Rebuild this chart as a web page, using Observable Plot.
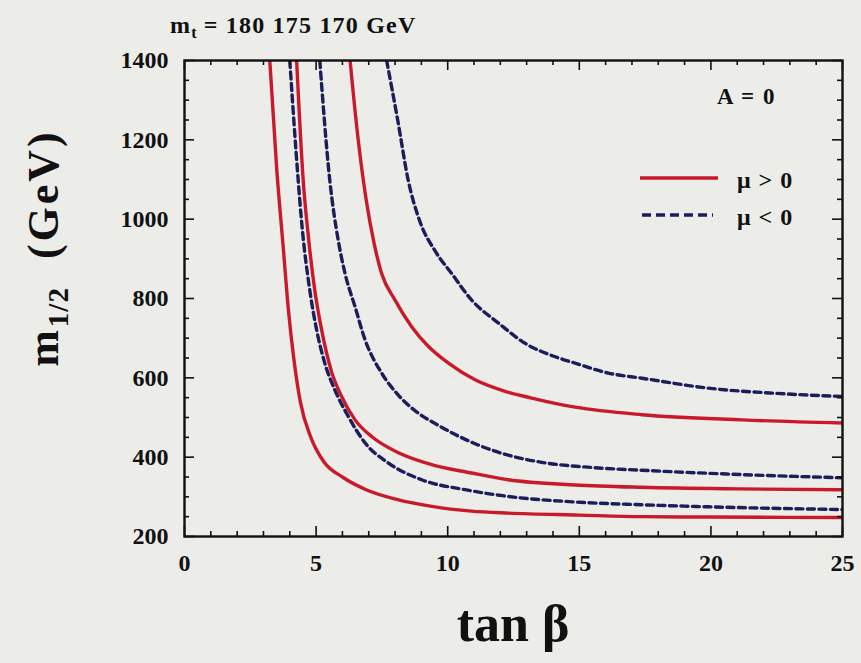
<!DOCTYPE html>
<html>
<head>
<meta charset="utf-8">
<script src="https://cdn.jsdelivr.net/npm/d3@7"></script>
<script src="https://cdn.jsdelivr.net/npm/@observablehq/plot@0.6"></script>
<style>
  html, body { margin: 0; padding: 0; background: #ecece9; }
  #wrap { position: relative; width: 861px; height: 663px; overflow: hidden;
          font-family: "Liberation Serif", "DejaVu Serif", serif; font-weight: bold; color: #111; }
  #wrap svg.chart { position: absolute; left: 0; top: 0; }
  .lbl { position: absolute; white-space: nowrap; line-height: 1; }
  #title { left: 170px; top: 13px; font-size: 24px; letter-spacing: 1.2px; }
  #title sub { font-size: 16px; vertical-align: -5px; letter-spacing: 0; }
  #ylabel { left: 47px; top: 248px; font-size: 44px; letter-spacing: 3px; transform: translate(-50%, -50%) rotate(-90deg); }
  #ylabel sub { font-size: 29px; vertical-align: -10px; letter-spacing: 1px; }
  #xlabel { left: 513px; top: 624px; font-size: 52px; transform: translate(-50%, -50%); }
  #anote { left: 717px; top: 85px; font-size: 23px; letter-spacing: 1.5px; }
  .leg { position: absolute; left: 640px; width: 80px; height: 8px; }
  #leg1 { top: 174px; }
  #leg2 { top: 211px; }
  #legt1 { left: 737px; top: 168px; font-size: 24px; letter-spacing: 1px; }
  #legt2 { left: 737px; top: 205px; font-size: 24px; letter-spacing: 1px; }
</style>
</head>
<body>
<div id="wrap">
  <div id="chart"></div>
  <div class="lbl" id="title">m<sub>t</sub> = 180 175 170 GeV</div>
  <div class="lbl" id="ylabel">m<sub>1/2</sub>&nbsp;&nbsp;(GeV)</div>
  <div class="lbl" id="xlabel">tan β</div>
  <div class="lbl" id="anote">A = 0</div>
  <svg class="leg" id="leg1"><line x1="0" x2="78" y1="4" y2="4" stroke="#c81a2b" stroke-width="3.5"/></svg>
  <svg class="leg" id="leg2"><line x1="2" x2="73" y1="4" y2="4" stroke="#1d1d5c" stroke-width="3.5" stroke-dasharray="9,5"/></svg>
  <div class="lbl" id="legt1">μ &gt; 0</div>
  <div class="lbl" id="legt2">μ &lt; 0</div>
</div>
<script>
// ---- data (tan beta, m_1/2 in GeV) ----
// mu > 0 (solid), mt = 180, 175, 170 GeV
const tanPos180 = [3.24, 3.5, 3.75, 3.95, 4.15, 4.4, 4.8, 5.3, 6.0, 6.9, 8.1, 9.4, 10.9, 12.3, 15, 17.4, 20, 25];
const mPos180   = [1400, 1130, 930, 770, 650, 540, 450, 388, 350, 318, 293, 276, 264, 259, 254, 250, 249, 248];
const tanPos175 = [4.26, 4.51, 4.7, 4.95, 5.21, 5.59, 5.97, 6.48, 7.11, 8.13, 9.39, 10.91, 12.3, 14.84, 17.38, 21, 25];
const mPos175   = [1400, 1098, 960, 821, 721, 615, 553, 494, 452, 411, 381, 360, 343, 330, 324, 320, 318];
const tanPos170 = [6.29, 6.6, 6.9, 7.2, 7.49, 8.0, 8.63, 9.27, 10.03, 11.04, 12.18, 13.19, 14.84, 17.38, 21.2, 25];
const mPos170   = [1400, 1200, 1050, 940, 863, 796, 729, 679, 637, 595, 566, 549, 526, 507, 494, 486];
// mu < 0 (dashed), mt = 180, 175, 170 GeV
const tanNeg180 = [4.0, 4.32, 4.45, 4.76, 5.02, 5.33, 5.71, 6.22, 6.86, 7.75, 9.01, 10.66, 12.3, 14.84, 17.38, 21, 25];
const mNeg180   = [1400, 1098, 993, 821, 721, 637, 570, 503, 436, 385, 343, 318, 301, 287, 280, 273, 268];
const tanNeg175 = [5.14, 5.52, 5.84, 6.1, 6.48, 6.86, 7.49, 8.13, 8.8, 9.65, 11.0, 12.3, 13.57, 15.48, 17.38, 21.2, 25];
const mNeg175   = [1400, 1098, 947, 863, 779, 696, 612, 556, 515, 480, 435, 405, 387, 374, 367, 356, 348];
const tanNeg170 = [7.68, 8.1, 8.5, 8.95, 9.52, 10.15, 10.91, 11.93, 12.94, 14.0, 14.84, 16.1, 17.38, 19.9, 22.45, 25];
const mNeg170   = [1400, 1250, 1098, 993, 920, 863, 796, 738, 687, 655, 637, 612, 599, 574, 561, 553];

// axis ticks and tick labels
const xMajor = [0, 5, 10, 15, 20, 25];
const xMinor = [1, 2, 3, 4, 6, 7, 8, 9, 11, 12, 13, 14, 16, 17, 18, 19, 21, 22, 23, 24];
const yMajor = [200, 400, 600, 800, 1000, 1200, 1400];
const yMinor = [250, 300, 350, 450, 500, 550, 650, 700, 750, 850, 900, 950, 1050, 1100, 1150, 1250, 1300, 1350];

function rows(tans, ms, mt) { return tans.map((t, i) => ({tan: t, m: ms[i], mt})); }
const posRows = [...rows(tanPos180, mPos180, 180), ...rows(tanPos175, mPos175, 175), ...rows(tanPos170, mPos170, 170)];
const negRows = [...rows(tanNeg180, mNeg180, 180), ...rows(tanNeg175, mNeg175, 175), ...rows(tanNeg170, mNeg170, 170)];

const RED = "#c81a2b", NAVY = "#1d1d5c", INK = "#111";
const W = 861, H = 663, ML = 184, MR = 19, MT = 60, MB = 127;
const FW = W - ML - MR, FH = H - MT - MB;
const X0 = 0, X1 = 25, Y0 = 200, Y1 = 1400;
// tick lengths (px) converted to data units so that inward ticks can be drawn by the scales
const MAJ = 10, MIN = 5;
const pxY = (X1 - X0) / FW, pxM = (Y1 - Y0) / FH;

// one table of vertical ticks (bottom and top edges) and one of horizontal ticks (left and right edges)
const vTicks = [];
for (const [list, len] of [[xMajor, MAJ], [xMinor, MIN]]) {
  for (const x of list) {
    vTicks.push({x, y1: Y0, y2: Y0 + len * pxM});
    vTicks.push({x, y1: Y1 - len * pxM, y2: Y1});
  }
}
const hTicks = [];
for (const [list, len] of [[yMajor, MAJ], [yMinor, MIN]]) {
  for (const y of list) {
    hTicks.push({y, x1: X0, x2: X0 + len * pxY});
    hTicks.push({y, x1: X1 - len * pxY, x2: X1});
  }
}
const labelStyle = {fill: INK, fontWeight: "bold", fontSize: 24, fontFamily: "'Liberation Serif', serif"};

const chart = Plot.plot({
  width: W, height: H,
  marginLeft: ML, marginRight: MR, marginTop: MT, marginBottom: MB,
  style: {background: "transparent", fontFamily: "'Liberation Serif', serif", fontWeight: "bold", fontSize: "24px", color: INK},
  x: {domain: [X0, X1], axis: null, label: null},
  y: {domain: [Y0, Y1], axis: null, label: null},
  marks: [
    Plot.line(posRows, {x: "tan", y: "m", z: "mt", stroke: RED, strokeWidth: 3.4, curve: "monotone-x", clip: true}),
    Plot.line(negRows, {x: "tan", y: "m", z: "mt", stroke: NAVY, strokeWidth: 3.4, strokeDasharray: "7,4.5", curve: "monotone-x", clip: true}),
    Plot.ruleX(vTicks, {x: "x", y1: "y1", y2: "y2", stroke: INK, strokeWidth: 1.6}),
    Plot.ruleY(hTicks, {y: "y", x1: "x1", x2: "x2", stroke: INK, strokeWidth: 1.6}),
    Plot.text(xMajor, {x: d => d, text: d => String(d), frameAnchor: "bottom", lineAnchor: "top", dy: 17, ...labelStyle}),
    Plot.text(yMajor, {y: d => d, text: d => String(d), frameAnchor: "left", textAnchor: "end", lineAnchor: "middle", dx: -16, ...labelStyle}),
    Plot.frame({stroke: INK, strokeWidth: 2.4})
  ]
});
chart.classList.add("chart");
document.getElementById("chart").appendChild(chart);
</script>
</body>
</html>
